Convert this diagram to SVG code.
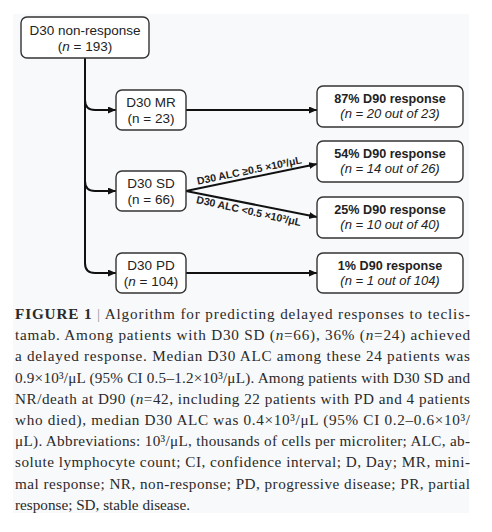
<svg xmlns="http://www.w3.org/2000/svg" width="492" height="532" viewBox="0 0 492 532">
<defs>
<marker id="ah" markerUnits="userSpaceOnUse" markerWidth="9" markerHeight="8" refX="8" refY="3.5" orient="auto">
<path d="M0,0 L8,3.5 L0,7 z" fill="#111"/>
</marker>
<style>
.box{fill:#fff;stroke:#333;stroke-width:1.4}
.t{font-family:"Liberation Sans",Arial,sans-serif;font-size:13.5px;fill:#222;text-anchor:middle}
.rb{font-family:"Liberation Sans",Arial,sans-serif;font-size:12.6px;font-weight:bold;fill:#222;text-anchor:middle}
.ri{font-family:"Liberation Sans",Arial,sans-serif;font-size:13px;font-style:italic;fill:#222;text-anchor:middle}
.lab{font-family:"Liberation Sans",Arial,sans-serif;font-size:10.5px;font-weight:bold;fill:#222;text-anchor:middle}
.c{fill:none;stroke:#111;stroke-width:2}
.cap{font-family:"Liberation Serif","Times New Roman",serif;font-size:15.2px;fill:#2a2a2a}
</style>
</defs>
<rect x="13" y="14" width="456" height="499" fill="#f8f9fb"/>
<g id="connectors">
<path class="c" d="M85,58 V263 Q85,273 95,273 H116" marker-end="url(#ah)"/>
<path class="c" d="M85,100 Q85,110 95,110 H116" marker-end="url(#ah)"/>
<path class="c" d="M85,181 Q85,191 95,191 H116" marker-end="url(#ah)"/>
<path class="c" d="M186,110 H317" marker-end="url(#ah)"/>
<path class="c" d="M186,191 L317,164" marker-end="url(#ah)"/>
<path class="c" d="M186,191 L317,217" marker-end="url(#ah)"/>
<path class="c" d="M186,273 H317" marker-end="url(#ah)"/>
<text class="lab" transform="translate(250,174) rotate(-11.6)">D30 ALC ≥0.5 ×10³/μL</text>
<text class="lab" transform="translate(248,214.5) rotate(12.5)">D30 ALC &lt;0.5 ×10³/μL</text>
</g>
<g id="n-root">
<rect class="box" x="21" y="17" width="128" height="41" rx="6"/>
<text class="t" x="85" y="35">D30 non-response</text>
<text class="t" x="85" y="51">(<tspan font-style="italic">n</tspan> = 193)</text>
</g>
<g id="n-mr">
<rect class="box" x="116" y="90" width="70" height="40" rx="6"/>
<text class="t" x="151" y="107">D30 MR</text>
<text class="t" x="151" y="123">(n = 23)</text>
</g>
<g id="n-sd">
<rect class="box" x="116" y="171" width="70" height="40" rx="6"/>
<text class="t" x="151" y="188">D30 SD</text>
<text class="t" x="151" y="204">(n = 66)</text>
</g>
<g id="n-pd">
<rect class="box" x="116" y="253" width="70" height="40" rx="6"/>
<text class="t" x="151" y="270">D30 PD</text>
<text class="t" x="151" y="286">(<tspan font-style="italic">n</tspan> = 104)</text>
</g>
<g id="r-87">
<rect class="box" x="317" y="86" width="146" height="41" rx="6"/>
<text class="rb" x="390" y="103">87% D90 response</text>
<text class="ri" x="390" y="118">(n = 20 out of 23)</text>
</g>
<g id="r-54">
<rect class="box" x="317" y="141" width="146" height="41" rx="6"/>
<text class="rb" x="390" y="158">54% D90 response</text>
<text class="ri" x="390" y="173">(n = 14 out of 26)</text>
</g>
<g id="r-25">
<rect class="box" x="317" y="197" width="146" height="41" rx="6"/>
<text class="rb" x="390" y="214">25% D90 response</text>
<text class="ri" x="390" y="229">(n = 10 out of 40)</text>
</g>
<g id="r-1">
<rect class="box" x="317" y="253" width="146" height="40" rx="6"/>
<text class="rb" x="390" y="270">1% D90 response</text>
<text class="ri" x="390" y="285">(n = 1 out of 104)</text>
</g>
<g id="caption" class="cap">
<text x="15" y="319" textLength="455" lengthAdjust="spacing"><tspan font-weight="bold">FIGURE 1</tspan> <tspan fill="#999">|</tspan> Algorithm for predicting delayed responses to teclis-</text>
<text x="15" y="340.2" textLength="455" lengthAdjust="spacing">tamab. Among patients with D30 SD (<tspan font-style="italic">n</tspan>=66), 36% (<tspan font-style="italic">n</tspan>=24) achieved</text>
<text x="15" y="361.4" textLength="455" lengthAdjust="spacing">a delayed response. Median D30 ALC among these 24 patients was</text>
<text x="15" y="382.6" textLength="455" lengthAdjust="spacing">0.9×10³/μL (95% CI 0.5–1.2×10³/μL). Among patients with D30 SD and</text>
<text x="15" y="403.8" textLength="455" lengthAdjust="spacing">NR/death at D90 (<tspan font-style="italic">n</tspan>=42, including 22 patients with PD and 4 patients</text>
<text x="15" y="425" textLength="455" lengthAdjust="spacing">who died), median D30 ALC was 0.4×10³/μL (95% CI 0.2–0.6×10³/</text>
<text x="15" y="446.2" textLength="455" lengthAdjust="spacing">μL). Abbreviations: 10³/μL, thousands of cells per microliter; ALC, ab-</text>
<text x="15" y="467.4" textLength="455" lengthAdjust="spacing">solute lymphocyte count; CI, confidence interval; D, Day; MR, mini-</text>
<text x="15" y="488.6" textLength="455" lengthAdjust="spacing">mal response; NR, non-response; PD, progressive disease; PR, partial</text>
<text x="15" y="509.8">response; SD, stable disease.</text>
</g>
</svg>
